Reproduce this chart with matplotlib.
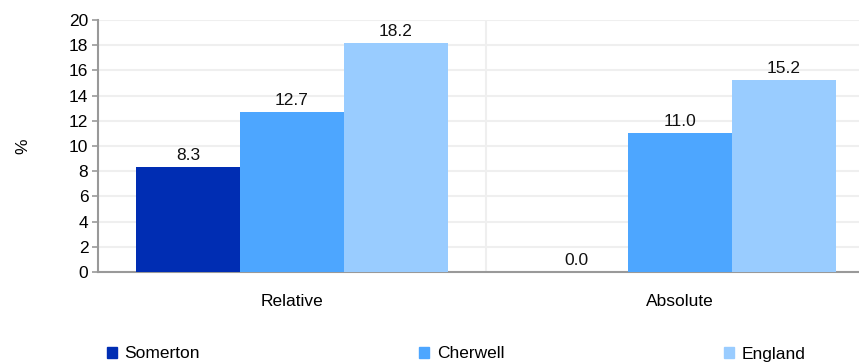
import numpy as np
import matplotlib
matplotlib.use("Agg")
import matplotlib.pyplot as plt
from matplotlib.patches import Patch

plt.rcParams['font.family'] = ['Liberation Sans', 'DejaVu Sans']

categories = ['Relative', 'Absolute']
series = ['Somerton', 'Cherwell', 'England']
somerton = [8.3, 0.0]
cherwell = [12.7, 11.0]
england = [18.2, 15.2]
colors = ['#002db3', '#4da6ff', '#99ccff']

fs = 12.5
fig = plt.figure(figsize=(8.59, 3.62), dpi=100)
ax = fig.add_axes([98/859, 1-272/362, (874-98)/859, 252/362])

x = np.arange(len(categories))
w = 0.268
vals = [somerton, cherwell, england]
for i, (name, v) in enumerate(zip(series, vals)):
    bars = ax.bar(x + (i-1)*w, v, w, color=colors[i], label=name, zorder=3)
    ax.bar_label(bars, labels=['%.1f' % t for t in v], padding=3, fontsize=fs, color='#111111')

ax.set_xlim(-0.5, 1.5)
ax.set_ylim(0, 20)
ax.set_yticks(np.arange(0, 21, 2))
ax.set_xticks(x)
ax.set_xticklabels(categories)
ax.set_xticks([0.5], minor=True)
ax.tick_params(axis='x', which='both', length=0, pad=16, labelsize=fs)
ax.tick_params(axis='y', length=4, color='#999999', width=1.2, labelsize=fs, pad=3)
ax.grid(axis='y', color='#efefef', lw=1.5, zorder=0)
ax.grid(axis='x', which='minor', color='#efefef', lw=1.5, zorder=0)
for s in ['top', 'right']:
    ax.spines[s].set_visible(False)
for s in ['left', 'bottom']:
    ax.spines[s].set_color('#999999')
    ax.spines[s].set_linewidth(1.5)
ax.set_ylabel('%', fontsize=fs, labelpad=28)

handles = [Patch(color=c, label=n) for c, n in zip(colors, series)]
fig.legend(handles=handles, loc='center left', bbox_to_anchor=(107/859, 1-354/362),
           ncol=3, frameon=False, fontsize=fs, handlelength=0.55, handleheight=0.65,
           handletextpad=0.45, columnspacing=12.65, borderaxespad=0, borderpad=0)

fig.savefig('out.png', dpi=100)
